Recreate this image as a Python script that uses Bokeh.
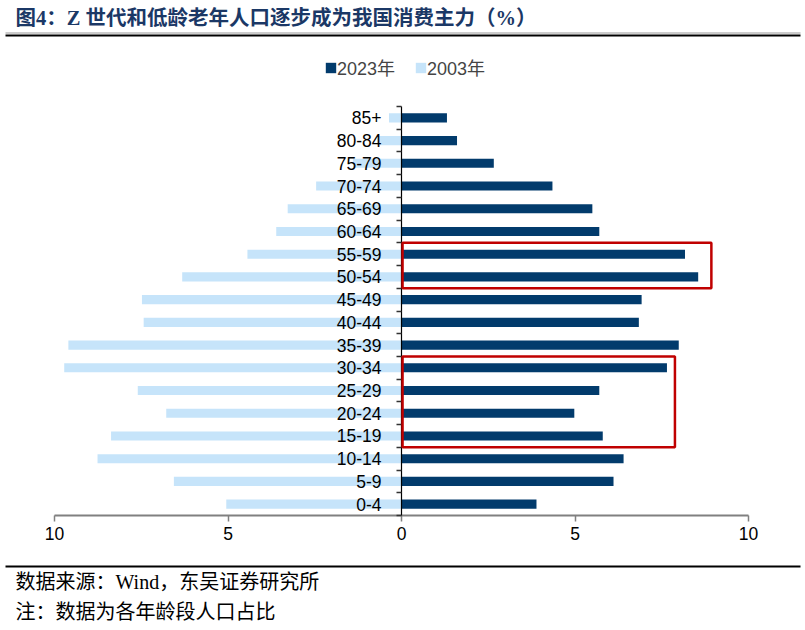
from bokeh.plotting import figure
from bokeh.models import (ColumnDataSource, FixedTicker, Label, BoxAnnotation,
                          Legend, LegendItem)
from bokeh.embed import file_html
from bokeh.resources import INLINE

# ---------------- data ----------------
age_groups = ["0-4", "5-9", "10-14", "15-19", "20-24", "25-29", "30-34", "35-39",
              "40-44", "45-49", "50-54", "55-59", "60-64", "65-69", "70-74",
              "75-79", "80-84", "85+"]
share_2023 = [3.89, 6.11, 6.40, 5.80, 4.98, 5.70, 7.65, 7.99, 6.84, 6.92,
              8.55, 8.17, 5.70, 5.50, 4.35, 2.66, 1.60, 1.31]
share_2003 = [5.05, 6.56, 8.76, 8.37, 6.78, 7.60, 9.72, 9.60, 7.43, 7.48,
              6.32, 4.44, 3.61, 3.28, 2.46, 1.40, 0.70, 0.36]
x_ticks = [-10, -5, 0, 5, 10]
x_tick_labels = ["10", "5", "0", "5", "10"]
series_names = ["2023年", "2003年"]
highlight_groups = [["50-54", "55-59"], ["15-19", "20-24", "25-29", "30-34"]]
highlight_right = [8.93, 7.88]

title_text = "图4：Z 世代和低龄老年人口逐步成为我国消费主力（%）"
source_text = "数据来源：Wind，东吴证券研究所"
note_text = "注：数据为各年龄段人口占比"

DARK = "#023B6C"
LIGHT = "#C6E4FA"
RED = "#C00000"
NAVY_TITLE = "#1B3866"
FONT = "'Liberation Sans', 'Noto Sans CJK SC'"
SERIF = "'Liberation Serif', 'Noto Sans CJK SC'"

n = len(age_groups)
ypos = list(range(n))
src = ColumnDataSource(dict(
    y=ypos,
    r23=share_2023,
    l03=[-v for v in share_2003],
    zero=[0] * n,
))

W, H = 805, 630
# plot area of the axes (canvas pixels)
AX_L, AX_R, AX_T, AX_B = 54, 748, 106, 515
ppx = (AX_R - AX_L) / 20.0            # px per % unit
ppy = (AX_B - AX_T) / float(n)         # px per category row
x0 = -10 - AX_L / ppx
x1 = 10 + (W - AX_R) / ppx
y1 = (n - 0.5) + AX_T / ppy
y0 = -0.5 - (H - AX_B) / ppy

p = figure(width=W, height=H, x_range=(x0, x1), y_range=(y0, y1),
           output_backend="svg", toolbar_location=None, tools="")
p.min_border = 0
p.outline_line_color = None
p.grid.visible = False
p.background_fill_color = "white"
p.border_fill_color = "white"

r03 = p.hbar(y="y", left="l03", right="zero", height=0.4, source=src,
             fill_color=LIGHT, line_color=None)
r23 = p.hbar(y="y", left="zero", right="r23", height=0.4, source=src,
             fill_color=DARK, line_color=None)

# x axis at the bottom of the category block
xa = p.xaxis[0]
xa.fixed_location = -0.5
xa.bounds = (-10, 10)
xa.ticker = FixedTicker(ticks=x_ticks, minor_ticks=[])
xa.major_label_overrides = {t: l for t, l in zip(x_ticks, x_tick_labels)}
xa.axis_line_color = "#808080"
xa.axis_line_width = 2
xa.major_tick_line_color = "#808080"
xa.major_tick_line_width = 1.5
xa.major_tick_out = 6
xa.major_tick_in = 0
xa.minor_tick_line_color = None
xa.major_label_text_font = FONT
xa.major_label_text_font_size = "17.5px"
xa.major_label_text_color = "black"
xa.major_label_standoff = 5

# y axis at x = 0
ya = p.yaxis[0]
ya.fixed_location = 0
ya.bounds = (-0.5, n - 0.5)
ya.ticker = FixedTicker(ticks=ypos, minor_ticks=[i - 0.5 for i in range(n + 1)])
ya.major_label_overrides = {i: g for i, g in zip(ypos, age_groups)}
ya.axis_line_color = "black"
ya.axis_line_width = 1.2
ya.major_tick_line_color = None
ya.major_tick_out = 0
ya.major_tick_in = 0
ya.minor_tick_line_color = "#333333"
ya.minor_tick_line_width = 1.5
ya.minor_tick_out = 5
ya.minor_tick_in = 0
ya.major_label_text_font = FONT
ya.major_label_text_font_size = "17.5px"
ya.major_label_text_color = "black"
ya.major_label_standoff = 15

# highlight boxes
for grp, right in zip(highlight_groups, highlight_right):
    idx = [age_groups.index(g) for g in grp]
    p.add_layout(BoxAnnotation(left=0.03, right=right, bottom=min(idx) - 0.5,
                               top=max(idx) + 0.5, fill_color=None, fill_alpha=0,
                               line_color=RED, line_alpha=1, line_width=2.5))

def sy(page_y):
    return H - page_y

# legend
legend = Legend(items=[LegendItem(label=series_names[0], renderers=[r23]),
                       LegendItem(label=series_names[1], renderers=[r03])],
                orientation="horizontal", location=(324, sy(80)),
                padding=0, margin=0, spacing=19, glyph_width=13, glyph_height=13,
                label_standoff=0, label_height=20,
                label_text_font=FONT, label_text_font_size="18px",
                border_line_color=None, background_fill_alpha=0)
p.add_layout(legend, "center")

# title
p.add_layout(Label(x=15, y=sy(17), x_units="screen", y_units="screen",
                   text=title_text, text_font=SERIF, text_font_size="20.5px",
                   text_font_style="bold", text_color=NAVY_TITLE,
                   text_baseline="middle", text_align="left"))

def rule(top, bottom, color):
    p.add_layout(BoxAnnotation(left=5, right=800, top=sy(top), bottom=sy(bottom),
                               left_units="screen", right_units="screen",
                               top_units="screen", bottom_units="screen",
                               fill_color=color, fill_alpha=1, line_color=None))

rule(32, 33, "#999999")
rule(34, 36, "black")
rule(565, 567, "black")

# footnotes
for txt, yy in [(source_text, 581), (note_text, 611)]:
    p.add_layout(Label(x=15, y=sy(yy), x_units="screen", y_units="screen",
                       text=txt, text_font=SERIF, text_font_size="20px",
                       text_color="black", text_baseline="middle",
                       text_align="left"))

open("out.html", "w").write(file_html(p, INLINE))
